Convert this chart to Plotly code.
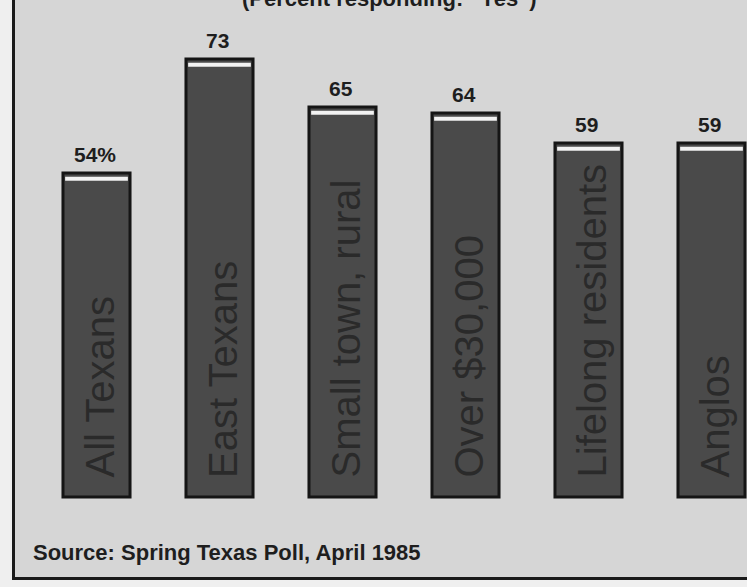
import plotly.graph_objects as go

categories = ["All Texans", "East Texans", "Small town, rural", "Over $30,000", "Lifelong residents", "Anglos"]
values = [54, 73, 65, 64, 59, 59]
value_labels = ["54%", "73", "65", "64", "59", "59"]
title_text = "(Percent responding: \u201cYes\u201d)"
source_text = "Source: Spring Texas Poll, April 1985"

W, H = 747, 587
x_idx = list(range(len(categories)))

fig = go.Figure()

# main bars
fig.add_trace(go.Bar(
    x=x_idx, y=values, width=0.545,
    marker=dict(color="#4a4a4a", line=dict(color="#151515", width=3)),
    hoverinfo="skip", showlegend=False,
))
# white highlight strip just under bar top
fig.add_trace(go.Bar(
    x=x_idx, y=[0.66] * len(values), base=[v - 1.3 for v in values], width=0.51,
    marker=dict(color="#f2f2f2", line=dict(width=0)),
    hoverinfo="skip", showlegend=False,
))

annotations = []
for i, (c, v, lab) in enumerate(zip(categories, values, value_labels)):
    annotations.append(dict(
        x=i, y=v, xref="x", yref="y", text=lab, showarrow=False,
        yanchor="bottom", yshift=5, xshift=-2,
        font=dict(family="Liberation Sans", size=21, color="#1e1e1e", weight="bold"),
    ))
    annotations.append(dict(
        x=i, y=0, xref="x", yref="y", text=c, showarrow=False,
        textangle=-90, yanchor="bottom", xanchor="center", yshift=17, xshift=3,
        font=dict(family="Liberation Sans", size=40, color="#2a2a2a"),
    ))

annotations.append(dict(
    x=389 / W, y=1 - 13 / H, xref="paper", yref="paper", text=title_text,
    showarrow=False, xanchor="center", yanchor="bottom",
    font=dict(family="Liberation Sans", size=22, color="#1e1e1e", weight="bold"),
))
annotations.append(dict(
    x=31 / W, y=(H - 552) / H, xref="paper", yref="paper", text=source_text,
    showarrow=False, xanchor="left", yanchor="middle",
    font=dict(family="Liberation Sans", size=22, color="#1e1e1e", weight="bold"),
))

fig.update_layout(
    width=W, height=H,
    margin=dict(l=0, r=0, t=0, b=0),
    paper_bgcolor="#efefef",
    plot_bgcolor="rgba(0,0,0,0)",
    barmode="overlay",
    xaxis=dict(range=[-96.5 / 123, (W - 96.5) / 123], visible=False, fixedrange=True),
    yaxis=dict(range=[-(H - 497) / 6.0, 497 / 6.0], visible=False, fixedrange=True),
    shapes=[dict(
        type="rect", xref="paper", yref="paper",
        x0=13.5 / W, x1=1.05, y0=(H - 578.5) / H, y1=1.05,
        line=dict(color="#1a1a1a", width=3), fillcolor="#d6d6d6", layer="below",
    )],
    annotations=annotations,
)

fig.write_html(
    "out.html",
    config={"displayModeBar": False, "staticPlot": True},
    post_script="document.body.style.margin='0';document.body.style.overflow='hidden';",
)
